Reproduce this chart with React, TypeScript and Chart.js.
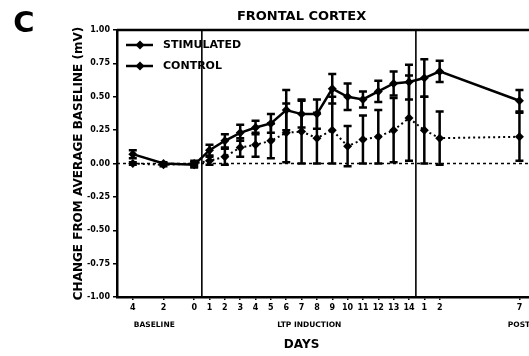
import React, { useEffect, useRef } from 'react';
import { Chart, registerables } from 'chart.js';

Chart.register(...registerables);

// ---- data ----
const dayLabels = ['4', '2', '0', '1', '2', '3', '4', '5', '6', '7', '8', '9', '10', '11', '12', '13', '14', '1', '2', '7'];
const dayPositions = [-4, -2, 0, 1, 2, 3, 4, 5, 6, 7, 8, 9, 10, 11, 12, 13, 14, 15, 16, 21.2];
const stimulated = [0.07, 0.0, -0.01, 0.1, 0.17, 0.23, 0.27, 0.3, 0.4, 0.37, 0.37, 0.56, 0.5, 0.48, 0.54, 0.6, 0.61, 0.64, 0.69, 0.47];
const stimulatedErr = [0.03, 0.01, 0.02, 0.04, 0.05, 0.06, 0.05, 0.07, 0.15, 0.1, 0.11, 0.11, 0.1, 0.06, 0.08, 0.09, 0.13, 0.14, 0.08, 0.08];
const control = [0.0, -0.01, 0.0, 0.02, 0.05, 0.12, 0.14, 0.17, 0.23, 0.24, 0.19, 0.25, 0.13, 0.18, 0.2, 0.25, 0.34, 0.25, 0.19, 0.2];
const controlErr = [0.01, 0.01, 0.02, 0.03, 0.06, 0.07, 0.09, 0.13, 0.22, 0.24, 0.19, 0.25, 0.15, 0.18, 0.2, 0.24, 0.32, 0.25, 0.2, 0.18];
const seriesNames = ['STIMULATED', 'CONTROL'];
const yTicks = [1, 0.75, 0.5, 0.25, 0, -0.25, -0.5, -0.75, -1];
const phaseNames = ['BASELINE', 'LTP INDUCTION', 'POST-LTP'];
const phaseCenters = [-2.6, 7.5, 21.7];
const phaseBoundaries = [0.5, 14.45];
const chartTitle = 'FRONTAL CORTEX';
const panelLabel = 'C';
const xTitle = 'DAYS';
const yTitle = 'CHANGE FROM AVERAGE BASELINE (mV)';

const FONT = "'DejaVu Sans', 'Liberation Sans', Arial, sans-serif";
const errs = [stimulatedErr, controlErr];

const decorPlugin = {
  id: 'decor',
  beforeDatasetsDraw(chart: any) {
    const { ctx, chartArea, scales } = chart;
    const x = scales.x;
    const y = scales.y;
    ctx.save();
    // top border
    ctx.strokeStyle = '#000';
    ctx.lineWidth = 2.5;
    ctx.beginPath();
    ctx.moveTo(chartArea.left, chartArea.top);
    ctx.lineTo(chartArea.right, chartArea.top);
    ctx.stroke();
    // phase boundaries
    ctx.lineWidth = 1.6;
    phaseBoundaries.forEach((b) => {
      const px = x.getPixelForValue(b);
      ctx.beginPath();
      ctx.moveTo(px, chartArea.top);
      ctx.lineTo(px, chartArea.bottom);
      ctx.stroke();
    });
    // zero line dotted
    const y0 = y.getPixelForValue(0);
    ctx.setLineDash([3, 3]);
    ctx.lineWidth = 1.5;
    ctx.beginPath();
    ctx.moveTo(chartArea.left, y0);
    ctx.lineTo(chartArea.right, y0);
    ctx.stroke();
    ctx.setLineDash([]);
    // error bars
    chart.data.datasets.forEach((ds: any, di: number) => {
      const meta = chart.getDatasetMeta(di);
      meta.data.forEach((pt: any, i: number) => {
        const v = ds.data[i].y;
        const e = errs[di][i];
        const yt = y.getPixelForValue(v + e);
        const yb = y.getPixelForValue(v - e);
        ctx.lineWidth = 2.5;
        ctx.beginPath();
        ctx.moveTo(pt.x, yt);
        ctx.lineTo(pt.x, yb);
        ctx.moveTo(pt.x - 4, yt);
        ctx.lineTo(pt.x + 4, yt);
        ctx.moveTo(pt.x - 4, yb);
        ctx.lineTo(pt.x + 4, yb);
        ctx.stroke();
      });
    });
    ctx.restore();
  },
  afterDraw(chart: any) {
    const { ctx, scales } = chart;
    const x = scales.x;
    ctx.save();
    ctx.fillStyle = '#000';
    ctx.strokeStyle = '#000';
    ctx.textBaseline = 'middle';
    // panel label
    ctx.textAlign = 'center';
    ctx.font = `bold 29px ${FONT}`;
    ctx.fillText(panelLabel, 24, 24);
    // title
    ctx.font = `bold 13px ${FONT}`;
    ctx.fillText(chartTitle, x.getPixelForValue(7), 17);
    // phase labels
    ctx.font = `bold 7.5px ${FONT}`;
    phaseNames.forEach((n, i) => {
      ctx.fillText(n, x.getPixelForValue(phaseCenters[i]), 325);
    });
    // x title
    ctx.font = `bold 12px ${FONT}`;
    ctx.fillText(xTitle, x.getPixelForValue(7), 345);
    // legend
    const legendY = [45, 66];
    seriesNames.forEach((n, i) => {
      const ly = legendY[i];
      ctx.lineWidth = 2.5;
      ctx.setLineDash([]);
      ctx.beginPath();
      ctx.moveTo(126, ly);
      ctx.lineTo(153, ly);
      ctx.stroke();
      ctx.beginPath();
      ctx.moveTo(140, ly - 4.5);
      ctx.lineTo(144.5, ly);
      ctx.lineTo(140, ly + 4.5);
      ctx.lineTo(135.5, ly);
      ctx.closePath();
      ctx.fill();
      ctx.textAlign = 'left';
      ctx.font = `bold 11px ${FONT}`;
      ctx.fillText(n, 163, ly);
    });
    ctx.restore();
  },
};

export default function App() {
  const ref = useRef<HTMLCanvasElement | null>(null);
  useEffect(() => {
    if (!ref.current) return;
    const chart = new Chart(ref.current, {
      type: 'line',
      data: {
        datasets: [
          {
            label: seriesNames[0],
            data: dayPositions.map((p, i) => ({ x: p, y: stimulated[i] })),
            borderColor: '#000',
            backgroundColor: '#000',
            borderWidth: 2.5,
            pointStyle: 'rectRot',
            pointRadius: 4.5,
            pointBorderWidth: 0,
            tension: 0,
          },
          {
            label: seriesNames[1],
            data: dayPositions.map((p, i) => ({ x: p, y: control[i] })),
            borderColor: '#000',
            backgroundColor: '#000',
            borderWidth: 2,
            borderDash: [2, 3],
            pointStyle: 'rectRot',
            pointRadius: 4.5,
            pointBorderWidth: 0,
            tension: 0,
          },
        ],
      },
      options: {
        responsive: false,
        animation: false,
        layout: { padding: { top: 30, left: 0, right: 0, bottom: 0 } },
        plugins: {
          legend: { display: false },
          title: { display: false },
          tooltip: { enabled: false },
        },
        scales: {
          x: {
            type: 'linear',
            min: -5.03,
            max: 23.55,
            afterBuildTicks: (s: any) => {
              s.ticks = dayPositions.map((v) => ({ value: v }));
            },
            afterFit: (s: any) => {
              s.height = 59;
            },
            grid: { drawOnChartArea: false, drawTicks: true, tickLength: 3, color: '#000', lineWidth: 1.5 },
            border: { display: true, color: '#000', width: 2.5 },
            ticks: {
              autoSkip: false,
              maxRotation: 0,
              minRotation: 0,
              padding: 3,
              color: '#000',
              font: { family: FONT, size: 8, weight: 'bold' },
              callback: (_v: any, i: number) => dayLabels[i],
            },
          },
          y: {
            type: 'linear',
            min: -1,
            max: 1,
            afterBuildTicks: (s: any) => {
              s.ticks = yTicks.map((v) => ({ value: v }));
            },
            afterFit: (s: any) => {
              s.width = 117;
            },
            grid: { drawOnChartArea: false, drawTicks: true, tickLength: 4, color: '#000', lineWidth: 1.5 },
            border: { display: true, color: '#000', width: 2.5 },
            ticks: {
              padding: 3,
              color: '#000',
              font: { family: FONT, size: 8, weight: 'bold' },
              callback: (v: any) => Number(v).toFixed(2),
            },
            title: {
              display: true,
              text: yTitle,
              color: '#000',
              font: { family: FONT, size: 12, weight: 'bold' },
              padding: { top: 72, bottom: 0 },
            },
          },
        },
      },
      plugins: [decorPlugin],
    } as any);
    return () => chart.destroy();
  }, []);
  return (
    <div style={{ position: 'fixed', left: 0, top: 0, width: 529, height: 356, overflow: 'hidden', background: '#fff' }}>
      <canvas ref={ref} width={560} height={356} style={{ display: 'block' }} />
    </div>
  );
}
